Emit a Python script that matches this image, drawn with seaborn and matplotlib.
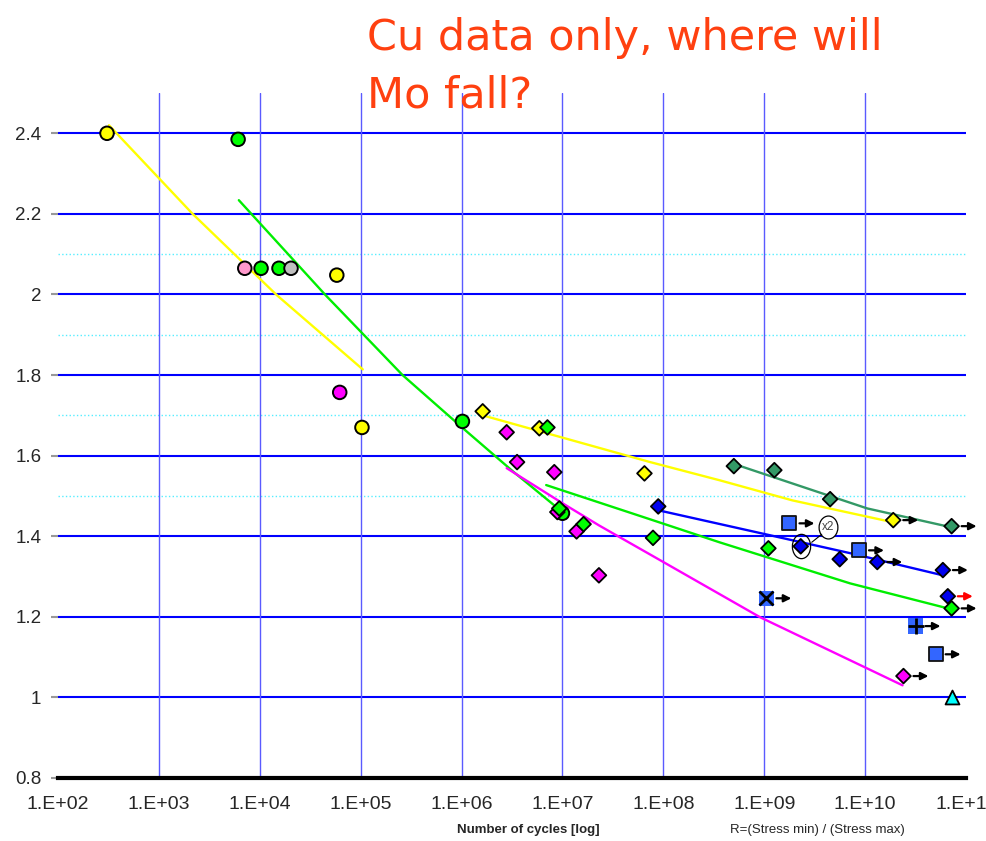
import numpy as np
import pandas as pd
import seaborn as sns
import matplotlib.pyplot as plt
import matplotlib.path as mpath
from matplotlib.transforms import offset_copy, Affine2D
from matplotlib.ticker import FixedLocator, NullLocator, FuncFormatter

# Kreise (niedrige Zyklenzahl)
circle_n = [3.06e2, 6.1e3, 7.1e3, 1.03e4, 1.55e4, 2.04e4, 5.8e4, 6.2e4, 1.03e5, 1.02e6, 1.0e7]
circle_s = [2.400, 2.385, 2.065, 2.065, 2.065, 2.065, 2.048, 1.757, 1.670, 1.685, 1.457]
circle_c = ['#ffff00', '#00ff00', '#ff99cc', '#00ff00', '#00ff00', '#c0c0c0',
            '#ffff00', '#ff00ff', '#ffff00', '#00ff00', '#00ff00']

# Rauten je Serie
yellow_n = [1.62e6, 5.9e6, 6.5e7, 1.9e10]
yellow_s = [1.710, 1.668, 1.556, 1.440]
magenta_n = [2.8e6, 3.55e6, 8.3e6, 8.9e6, 1.38e7, 2.3e7, 2.4e10]
magenta_s = [1.658, 1.584, 1.559, 1.460, 1.412, 1.303, 1.053]
green_n = [7.1e6, 9.3e6, 1.62e7, 7.9e7, 1.1e9, 7.2e10]
green_s = [1.670, 1.469, 1.430, 1.396, 1.370, 1.221]
blue_n = [8.9e7, 2.3e9, 5.6e9, 1.32e10, 5.9e10, 6.6e10]
blue_s = [1.474, 1.375, 1.343, 1.336, 1.316, 1.251]
dkgreen_n = [5.0e8, 1.26e9, 4.5e9, 7.2e10]
dkgreen_s = [1.574, 1.564, 1.492, 1.425]

# Quadrate und Sonderpunkte
square_n = [1.78e9, 8.7e9, 5.0e10]
square_s = [1.432, 1.365, 1.107]
xsquare_n = [1.05e9]
xsquare_s = [1.246]
psquare_n = [3.16e10]
psquare_s = [1.177]
tri_n = [7.2e10]
tri_s = [1.000]

# Durchläufer (Pfeile)
arrow_n = [7.2e10, 1.9e10, 1.78e9, 8.7e9, 1.32e10, 5.9e10, 6.6e10, 7.2e10, 1.05e9, 3.16e10, 5.0e10, 2.4e10]
arrow_s = [1.425, 1.440, 1.432, 1.365, 1.336, 1.316, 1.251, 1.221, 1.246, 1.177, 1.107, 1.053]
arrow_c = ['k', 'k', 'k', 'k', 'k', 'k', 'red', 'k', 'k', 'k', 'k', 'k']

# Ausgleichskurven
fit_y1_n = [3.2e2, 2.14e3, 1.48e4, 1.05e5]
fit_y1_s = [2.420, 2.201, 1.998, 1.814]
fit_g1_n = [6.2e3, 4.5e4, 2.6e5, 1.0e6, 3.3e6, 1.0e7]
fit_g1_s = [2.234, 1.998, 1.800, 1.671, 1.559, 1.460]
fit_y2_n = [1.62e6, 7.4e7, 3.6e8, 1.9e9, 1.86e10]
fit_y2_s = [1.700, 1.584, 1.539, 1.489, 1.435]
fit_dg_n = [5.5e8, 1.05e10, 7.2e10]
fit_dg_s = [1.576, 1.469, 1.422]
fit_b_n = [8.7e7, 7.1e9, 5.9e10]
fit_b_s = [1.465, 1.358, 1.303]
fit_g2_n = [6.9e6, 7.4e7, 3.6e8, 7.1e9, 6.6e10]
fit_g2_s = [1.527, 1.442, 1.385, 1.283, 1.221]
fit_m_n = [2.8e6, 1.0e7, 2.3e7, 1.05e8, 9.1e8, 2.35e10]
fit_m_s = [1.569, 1.482, 1.427, 1.333, 1.199, 1.030]

y_ticks = [0.8, 1.0, 1.2, 1.4, 1.6, 1.8, 2.0, 2.2, 2.4]
dotted_levels = [1.5, 1.7, 1.9, 2.1]
x_decades = [1e2, 1e3, 1e4, 1e5, 1e6, 1e7, 1e8, 1e9, 1e10, 1e11]

sns.set_style("white")
plt.rcParams['font.family'] = ['Liberation Sans', 'DejaVu Sans']

fig = plt.figure(figsize=(9.86, 8.41), dpi=100)
ax = fig.add_axes([58 / 986, 1 - 778 / 841, 908 / 986, 685 / 841])
ax.set_xscale('log')
ax.set_xlim(1e2, 1e11)
ax.set_ylim(0.8, 2.5)

# Gitter
for lv in y_ticks[1:]:
    ax.axhline(lv, color='#0000ff', lw=1.5, zorder=0.5)
for lv in dotted_levels:
    ax.axhline(lv, color='#55eeff', lw=1, ls=':', zorder=0.5)
for d in x_decades[1:-1]:
    ax.axvline(d, color='#5a5aff', lw=1, zorder=0.5)

# Kurven
fits = [(fit_y1_n, fit_y1_s, '#ffff00'), (fit_g1_n, fit_g1_s, '#00ee00'),
        (fit_y2_n, fit_y2_s, '#ffff00'), (fit_dg_n, fit_dg_s, '#339966'),
        (fit_b_n, fit_b_s, '#0000ff'), (fit_g2_n, fit_g2_s, '#00ee00'),
        (fit_m_n, fit_m_s, '#ff00ff')]
for fn, fs, col in fits:
    sns.lineplot(x=fn, y=fs, color=col, lw=1.7, sort=False, estimator=None, ax=ax, zorder=2)

# Pfeile hinter Durchläufern
tr_tail = offset_copy(ax.transData, fig=fig, x=10, y=0, units='dots')
tr_head = offset_copy(ax.transData, fig=fig, x=25, y=0, units='dots')
for n, s, c in zip(arrow_n, arrow_s, arrow_c):
    ax.annotate('', xy=(n, s), xycoords=tr_head, xytext=(n, s), textcoords=tr_tail,
                arrowprops=dict(arrowstyle='-|>', color=c, lw=1.6, mutation_scale=11,
                                shrinkA=0, shrinkB=0), zorder=4)

# Punkte
circ = pd.DataFrame({'n': circle_n, 's': circle_s, 'c': circle_c})
sns.scatterplot(data=circ, x='n', y='s', hue='c', palette={c: c for c in circle_c},
                marker='o', s=95, edgecolor='black', linewidth=1.4, legend=False, ax=ax, zorder=3)

diam = pd.concat([
    pd.DataFrame({'n': yellow_n, 's': yellow_s, 'c': '#ffff00'}),
    pd.DataFrame({'n': magenta_n, 's': magenta_s, 'c': '#ff00ff'}),
    pd.DataFrame({'n': green_n, 's': green_s, 'c': '#00ff00'}),
    pd.DataFrame({'n': blue_n, 's': blue_s, 'c': '#0000ee'}),
    pd.DataFrame({'n': dkgreen_n, 's': dkgreen_s, 'c': '#339966'}),
])
sns.scatterplot(data=diam, x='n', y='s', hue='c', palette={c: c for c in diam['c'].unique()},
                marker='D', s=56, edgecolor='black', linewidth=1.3, legend=False, ax=ax, zorder=3)

sns.scatterplot(x=square_n, y=square_s, color='#3366ff', marker='s', s=110,
                edgecolor='#111111', linewidth=1.3, ax=ax, zorder=3)
sns.scatterplot(x=xsquare_n + psquare_n, y=xsquare_s + psquare_s, color='#3366ff', marker='s',
                s=120, edgecolor='none', ax=ax, zorder=3)
ax.scatter(xsquare_n, xsquare_s, marker='x', s=100, color='black', linewidth=2, zorder=4)
ax.scatter(psquare_n, psquare_s, marker='+', s=120, color='black', linewidth=2, zorder=4)
sns.scatterplot(x=tri_n, y=tri_s, color='#00ffff', marker='^', s=100,
                edgecolor='black', linewidth=1.3, ax=ax, zorder=3)

# "x2"-Markierung
ell = mpath.Path.unit_circle().transformed(Affine2D().scale(0.75, 1.0))
bub = mpath.Path.unit_circle().transformed(Affine2D().scale(0.82, 1.0))
mark_n, mark_s = blue_n[1], blue_s[1]
ax.plot([mark_n], [mark_s], marker=ell, markersize=17.5, mfc='none', mec='black', mew=0.9, zorder=5)
tr_bub = offset_copy(ax.transData, fig=fig, x=27, y=19, units='dots')
ax.plot([mark_n], [mark_s], marker=bub, markersize=16.5, mfc='white', mec='black', mew=0.9,
        transform=tr_bub, zorder=5)
ax.text(mark_n, mark_s, 'x2', transform=tr_bub, fontsize=8.5, color='#444444',
        ha='center', va='center', zorder=6)
ax.annotate('', xy=(mark_n, mark_s), xycoords=offset_copy(ax.transData, fig=fig, x=21, y=12, units='dots'),
            xytext=(mark_n, mark_s), textcoords=offset_copy(ax.transData, fig=fig, x=11, y=4, units='dots'),
            arrowprops=dict(arrowstyle='-', color='black', lw=0.8, shrinkA=0, shrinkB=0), zorder=5)

# Achsen
for sp in ['left', 'top', 'right']:
    ax.spines[sp].set_visible(False)
ax.spines['bottom'].set_color('black')
ax.spines['bottom'].set_linewidth(3)
ax.xaxis.set_major_locator(FixedLocator(x_decades))
ax.xaxis.set_minor_locator(NullLocator())
ax.xaxis.set_major_formatter(FuncFormatter(lambda v, p: '1.E+%02d' % round(np.log10(v))))
ax.yaxis.set_major_locator(FixedLocator(y_ticks))
ax.yaxis.set_major_formatter(FuncFormatter(lambda v, p: '%g' % v))
ax.tick_params(axis='x', length=9, width=2, color='black', pad=4, labelsize=14)
ax.tick_params(axis='y', length=5, width=1.5, color='#999999', pad=7, labelsize=13.5, left=True)
ax.set_xlabel('')
ax.set_ylabel('')

fig.text(528 / 986, 1 - 830 / 841, 'Number of cycles [log]', ha='center', va='center',
         fontsize=9.5, fontweight='bold', family=['Liberation Sans Narrow', 'Liberation Sans'])
fig.text(730 / 986, 1 - 830 / 841, 'R=(Stress min) / (Stress max)', ha='left', va='center',
         fontsize=9.5, family=['Liberation Sans Narrow', 'Liberation Sans'])

fig.text(367 / 986, 1 - 50 / 841, 'Cu data only, where will', ha='left', va='baseline',
         fontsize=31, color='#ff4010', family=['DejaVu Sans'])
fig.text(367 / 986, 1 - 108 / 841, 'Mo fall?', ha='left', va='baseline',
         fontsize=31, color='#ff4010', family=['DejaVu Sans'])

fig.savefig('out.png', dpi=100)
